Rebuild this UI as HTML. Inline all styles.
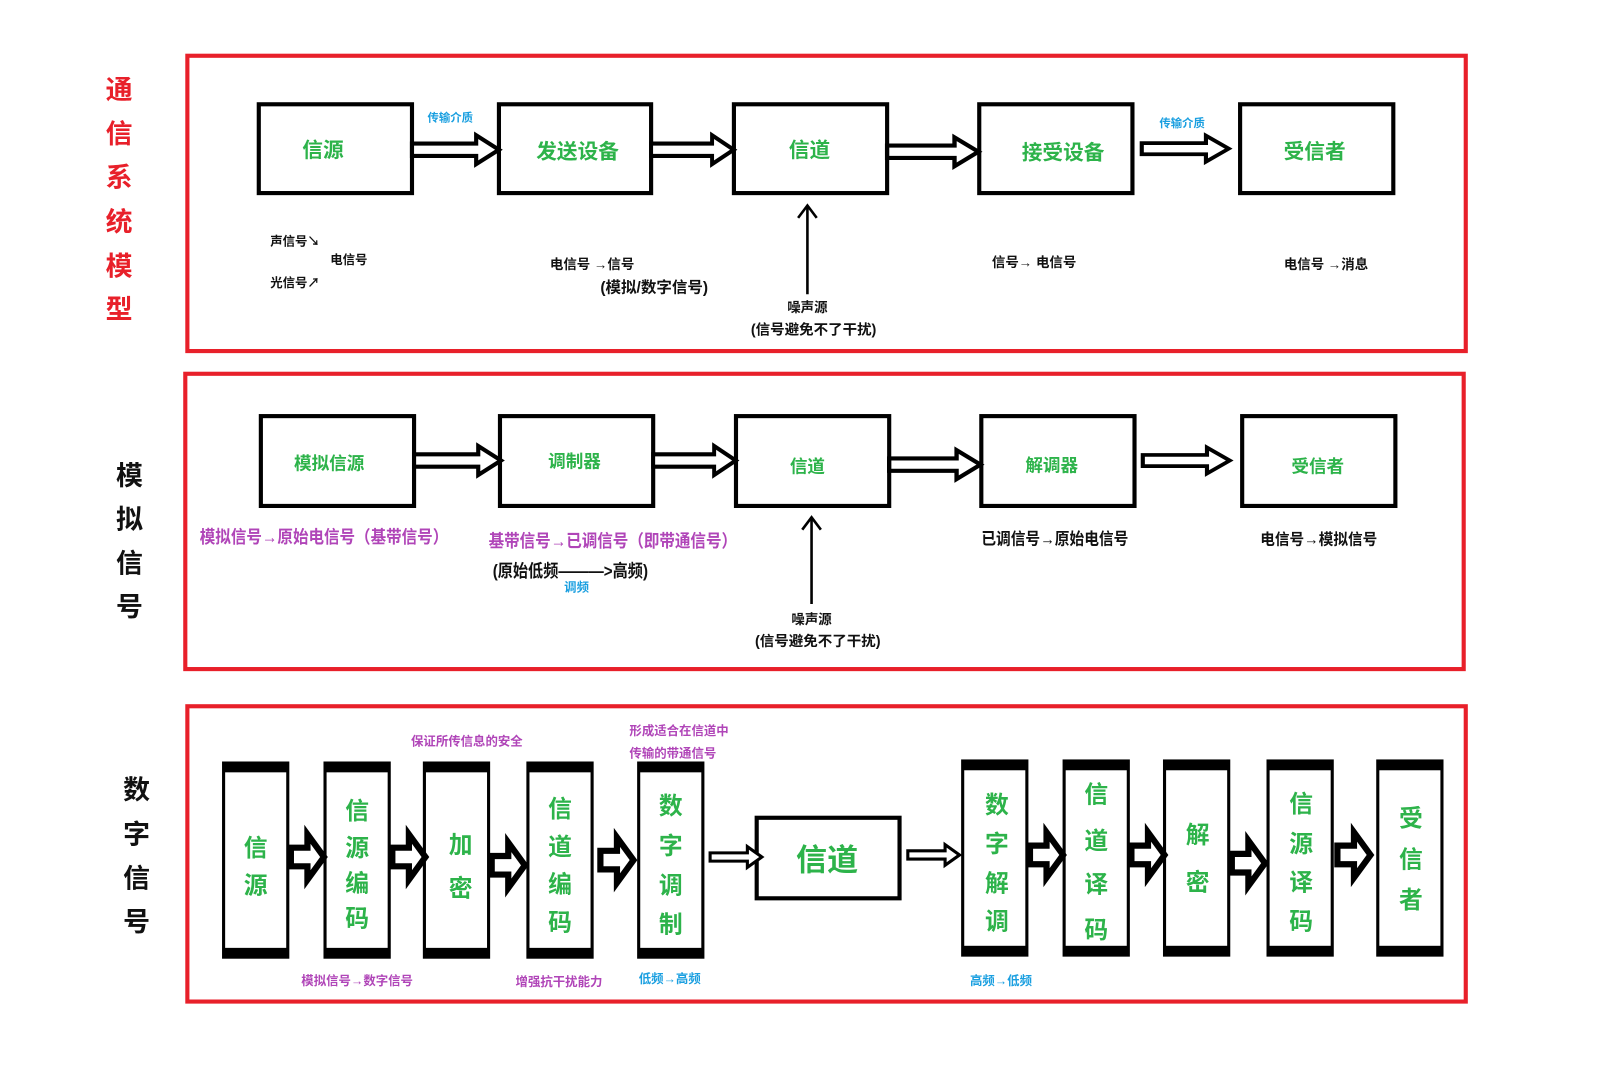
<!DOCTYPE html>
<html><head><meta charset="utf-8">
<style>
html,body{margin:0;padding:0;background:#fff;}
svg{display:block;}
text{font-family:"Liberation Sans","Noto Sans CJK SC",sans-serif;font-weight:bold;text-anchor:middle;dominant-baseline:central;}
.g{fill:#2db34a;}
.p{fill:#b045b8;}
.b{fill:#1a9fe0;}
.k{fill:#111;}
</style></head><body>
<svg width="1620" height="1079" viewBox="0 0 1565 1045" preserveAspectRatio="none" xmlns="http://www.w3.org/2000/svg">
<defs>
<g id="dbl"><path d="M0,-6 H62 V-14 L84,0 L62,14 V6 H0 Z" fill="#fff" stroke="#000" stroke-width="4" stroke-linejoin="miter"/></g>
<g id="thk"><path d="M0,-9 H16 V-22 L32,0 L16,22 V9 H0 Z" fill="#fff" stroke="#000" stroke-width="6"/></g>
<g id="thin"><path d="M0,-4 H36 V-10 L50,0 L36,10 V4 H0 Z" fill="#fff" stroke="#000" stroke-width="3"/></g>
</defs>
<rect width="1565" height="1079" fill="#fff"/>
<rect x="181" y="54" width="1235" height="286" fill="none" stroke="#e8202a" stroke-width="4"/>
<rect x="179" y="362" width="1235" height="286" fill="none" stroke="#e8202a" stroke-width="4"/>
<rect x="181" y="684" width="1235" height="286" fill="none" stroke="#e8202a" stroke-width="4"/>
<g font-size="26">
<text x="115" y="87" style="fill:#e8202a">通</text><text x="115" y="130" style="fill:#e8202a">信</text><text x="115" y="172" style="fill:#e8202a">系</text><text x="115" y="215" style="fill:#e8202a">统</text><text x="115" y="258" style="fill:#e8202a">模</text><text x="115" y="300" style="fill:#e8202a">型</text>
</g>
<g font-size="26">
<text x="125" y="461" class="k">模</text><text x="125" y="503" class="k">拟</text><text x="125" y="546" class="k">信</text><text x="125" y="588" class="k">号</text>
<text x="132" y="765" class="k">数</text><text x="132" y="808" class="k">字</text><text x="132" y="851" class="k">信</text><text x="132" y="893" class="k">号</text>
</g>
<g fill="none" stroke="#000" stroke-width="4">
<rect x="250" y="101" width="148" height="86"/><rect x="482" y="101" width="147" height="86"/><rect x="709" y="101" width="148" height="86"/><rect x="946" y="101" width="148" height="86"/><rect x="1198" y="101" width="148" height="86"/>
</g>
<g font-size="20">
<text x="312" y="146" class="g">信源</text><text x="558" y="147" class="g">发送设备</text><text x="782" y="146" class="g">信道</text><text x="1027" y="148" class="g">接受设备</text><text x="1270" y="147" class="g">受信者</text>
</g>
<use href="#dbl" x="398" y="145"/><use href="#dbl" transform="translate(629,145) scale(0.95,1)"/><use href="#dbl" transform="translate(857,147) scale(1.05,1)"/><use href="#dbl" transform="translate(1103,144) scale(1.0,0.9)"/>
<text x="435" y="115" font-size="11" class="b">传输介质</text><text x="1142" y="120" font-size="11" class="b">传输介质</text>
<path d="M780,285 V199 M771,211 L780,199 L789,211" fill="none" stroke="#000" stroke-width="2.5"/>
<text x="780" y="298" font-size="13" class="k">噪声源</text><text x="786" y="320" font-size="14" class="k">(信号避免不了干扰)</text>
<text x="285" y="234" font-size="12" class="k">声信号↘</text><text x="337" y="252" font-size="12" class="k">电信号</text><text x="285" y="274" font-size="12" class="k">光信号↗</text>
<text x="572" y="256" font-size="13" class="k">电信号 →信号</text><text x="632" y="279" font-size="15" class="k">(模拟/数字信号)</text>
<text x="999" y="254" font-size="13" class="k">信号→ 电信号</text><text x="1281" y="256" font-size="13" class="k">电信号 →消息</text>
<g fill="none" stroke="#000" stroke-width="4">
<rect x="252" y="403" width="148" height="87"/><rect x="483" y="403" width="148" height="87"/><rect x="711" y="403" width="148" height="87"/><rect x="948" y="403" width="148" height="87"/><rect x="1200" y="403" width="148" height="87"/>
</g>
<g font-size="17">
<text x="318" y="449" class="g">模拟信源</text><text x="555" y="447" class="g">调制器</text><text x="780" y="452" class="g">信道</text><text x="1016" y="451" class="g">解调器</text><text x="1273" y="452" class="g">受信者</text>
</g>
<use href="#dbl" x="400" y="446"/><use href="#dbl" transform="translate(631,446) scale(0.95,1)"/><use href="#dbl" transform="translate(859,450) scale(1.05,1)"/><use href="#dbl" transform="translate(1104,446) scale(1.0,0.9)"/>
<text x="313" y="520" font-size="17" class="p" textLength="240" lengthAdjust="spacingAndGlyphs">模拟信号→原始电信号（基带信号）</text>
<text x="592" y="524" font-size="17" class="p" textLength="240" lengthAdjust="spacingAndGlyphs">基带信号→已调信号（即带通信号）</text>
<text x="551" y="553" font-size="17" class="k" textLength="150" lengthAdjust="spacingAndGlyphs">(原始低频———&gt;高频)</text>
<text x="557" y="569" font-size="12" class="b">调频</text>
<text x="1019" y="522" font-size="16" class="k" textLength="142" lengthAdjust="spacingAndGlyphs">已调信号→原始电信号</text>
<text x="1274" y="523" font-size="15" class="k" textLength="113" lengthAdjust="spacingAndGlyphs">电信号→模拟信号</text>
<path d="M784,585 V501 M775,513 L784,501 L793,513" fill="none" stroke="#000" stroke-width="2.5"/>
<text x="784" y="600" font-size="13" class="k">噪声源</text><text x="790" y="622" font-size="14" class="k">(信号避免不了干扰)</text>
<g>
<g id="c1"><rect x="216" y="739" width="62" height="188" fill="#fff" stroke="#000" stroke-width="3"/><rect x="216" y="739" width="62" height="9" fill="#000"/><rect x="216" y="918" width="62" height="9" fill="#000"/></g>
<use href="#c1" x="98"/><use href="#c1" x="194"/><use href="#c1" x="294"/><use href="#c1" x="401"/>
<use href="#c1" x="714" y="-2"/><use href="#c1" x="812" y="-2"/><use href="#c1" x="909" y="-2"/><use href="#c1" x="1009" y="-2"/><use href="#c1" x="1115" y="-2"/>
</g>
<g font-size="23">
<text x="247" y="822" class="g">信</text><text x="247" y="858" class="g">源</text>
<text x="345" y="786" class="g">信</text><text x="345" y="822" class="g">源</text><text x="345" y="856" class="g">编</text><text x="345" y="890" class="g">码</text>
<text x="445" y="819" class="g">加</text><text x="445" y="861" class="g">密</text>
<text x="541" y="784" class="g">信</text><text x="541" y="821" class="g">道</text><text x="541" y="857" class="g">编</text><text x="541" y="894" class="g">码</text>
<text x="648" y="781" class="g">数</text><text x="648" y="820" class="g">字</text><text x="648" y="858" class="g">调</text><text x="648" y="896" class="g">制</text>
<text x="963" y="780" class="g">数</text><text x="963" y="818" class="g">字</text><text x="963" y="856" class="g">解</text><text x="963" y="893" class="g">调</text>
<text x="1059" y="770" class="g">信</text><text x="1059" y="815" class="g">道</text><text x="1059" y="857" class="g">译</text><text x="1059" y="901" class="g">码</text>
<text x="1157" y="809" class="g">解</text><text x="1157" y="855" class="g">密</text>
<text x="1257" y="779" class="g">信</text><text x="1257" y="818" class="g">源</text><text x="1257" y="855" class="g">译</text><text x="1257" y="893" class="g">码</text>
<text x="1363" y="793" class="g">受</text><text x="1363" y="833" class="g">信</text><text x="1363" y="872" class="g">者</text>
</g>
<use href="#thk" x="281" y="830"/><use href="#thk" x="379" y="830"/><use href="#thk" x="475" y="838"/><use href="#thk" x="580" y="833"/>
<use href="#thk" x="995" y="828"/><use href="#thk" x="1093" y="828"/><use href="#thk" x="1190" y="836"/><use href="#thk" x="1292" y="828"/>
<rect x="731" y="792" width="138" height="78" fill="none" stroke="#000" stroke-width="4"/>
<text x="799" y="833" font-size="30" class="g">信道</text>
<use href="#thin" x="686" y="830"/><use href="#thin" x="877" y="828"/>
<text x="451" y="718" font-size="12" class="p">保证所传信息的安全</text>
<text x="656" y="708" font-size="12" class="p">形成适合在信道中</text><text x="650" y="730" font-size="12" class="p">传输的带通信号</text>
<text x="345" y="950" font-size="12" class="p">模拟信号→数字信号</text><text x="540" y="951" font-size="12" class="p">增强抗干扰能力</text>
<text x="647" y="948" font-size="12" class="b">低频→高频</text><text x="967" y="950" font-size="12" class="b">高频→低频</text>
</svg>
</body></html>
